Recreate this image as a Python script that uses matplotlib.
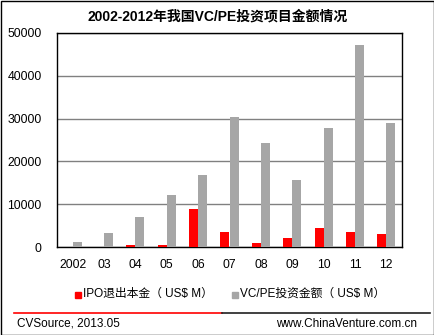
import matplotlib.pyplot as plt
import numpy as np
from matplotlib.lines import Line2D
from matplotlib.patches import Rectangle

plt.rcParams['font.family'] = ['Liberation Sans', 'Noto Sans CJK SC']

years = ['2002', '03', '04', '05', '06', '07', '08', '09', '10', '11', '12']
ipo_exit = [0, 0, 500, 500, 8950, 3600, 1000, 2200, 4500, 3600, 3100]
vcpe_invest = [1200, 3300, 7100, 12150, 16800, 30400, 24400, 15650, 27800, 47200, 29050]
yticks = [0, 10000, 20000, 30000, 40000, 50000]

W, H = 435, 335
fig = plt.figure(figsize=(W / 100, H / 100), dpi=100)
ax = fig.add_axes([57 / W, 1 - 247 / H, (402 - 57) / W, (247 - 33) / H])

x = np.arange(len(years))
bw = 0.287
ax.bar(x - bw / 2, ipo_exit, bw, color='#ff0000', zorder=3)
ax.bar(x + bw / 2, vcpe_invest, bw, color='#a6a6a6', zorder=3)

ax.set_xlim(-0.5, len(years) - 0.5)
ax.set_ylim(0, 50000)
ax.set_yticks(yticks)
ax.set_yticklabels([str(v) for v in yticks], fontsize=8.8)
ax.set_xticks(x)
ax.set_xticklabels(years, fontsize=8.8)
ax.tick_params(length=0)
ax.tick_params(axis='x', pad=9)
ax.tick_params(axis='y', pad=11)
ax.yaxis.grid(True, color='#808080', lw=1, zorder=0)
for s in ax.spines.values():
    s.set_color('black')
    s.set_linewidth(1)

fig.text(0.5, 1 - 16 / H, '2002-2012年我国VC/PE投资项目金额情况',
         ha='center', va='center', fontsize=10, fontweight='bold',
         family=['Liberation Sans', 'Noto Sans CJK SC'])

# legend
fig.patches.append(Rectangle((75 / W, 1 - 298 / H), 6 / W, 6 / H,
                             color='#ff0000', transform=fig.transFigure))
fig.text(83 / W, 1 - 294 / H, 'IPO退出本金（ US$ M）', va='center', fontsize=8.5)
fig.patches.append(Rectangle((232 / W, 1 - 298 / H), 6 / W, 6 / H,
                             color='#a6a6a6', transform=fig.transFigure))
fig.text(240 / W, 1 - 294 / H, 'VC/PE投资金额（ US$ M）', va='center', fontsize=8.5)

# footer
fig.add_artist(Line2D([14 / W, 222 / W], [1 - 313 / H] * 2, color='#ff0000', lw=1.2))
fig.add_artist(Line2D([222 / W, 430 / W], [1 - 313 / H] * 2, color='#202020', lw=1.2))
fig.text(17 / W, 1 - 324 / H, 'CVSource, 2013.05', va='center', fontsize=8.5)
fig.text(417 / W, 1 - 324 / H, 'www.ChinaVenture.com.cn', va='center', ha='right', fontsize=8.5)

fig.patches.append(Rectangle((0.5 / W, 0.5 / H), 1 - 1.5 / W, 1 - 1.5 / H, fill=False,
                             edgecolor='black', lw=1, transform=fig.transFigure))

fig.savefig('out.png', dpi=100)
